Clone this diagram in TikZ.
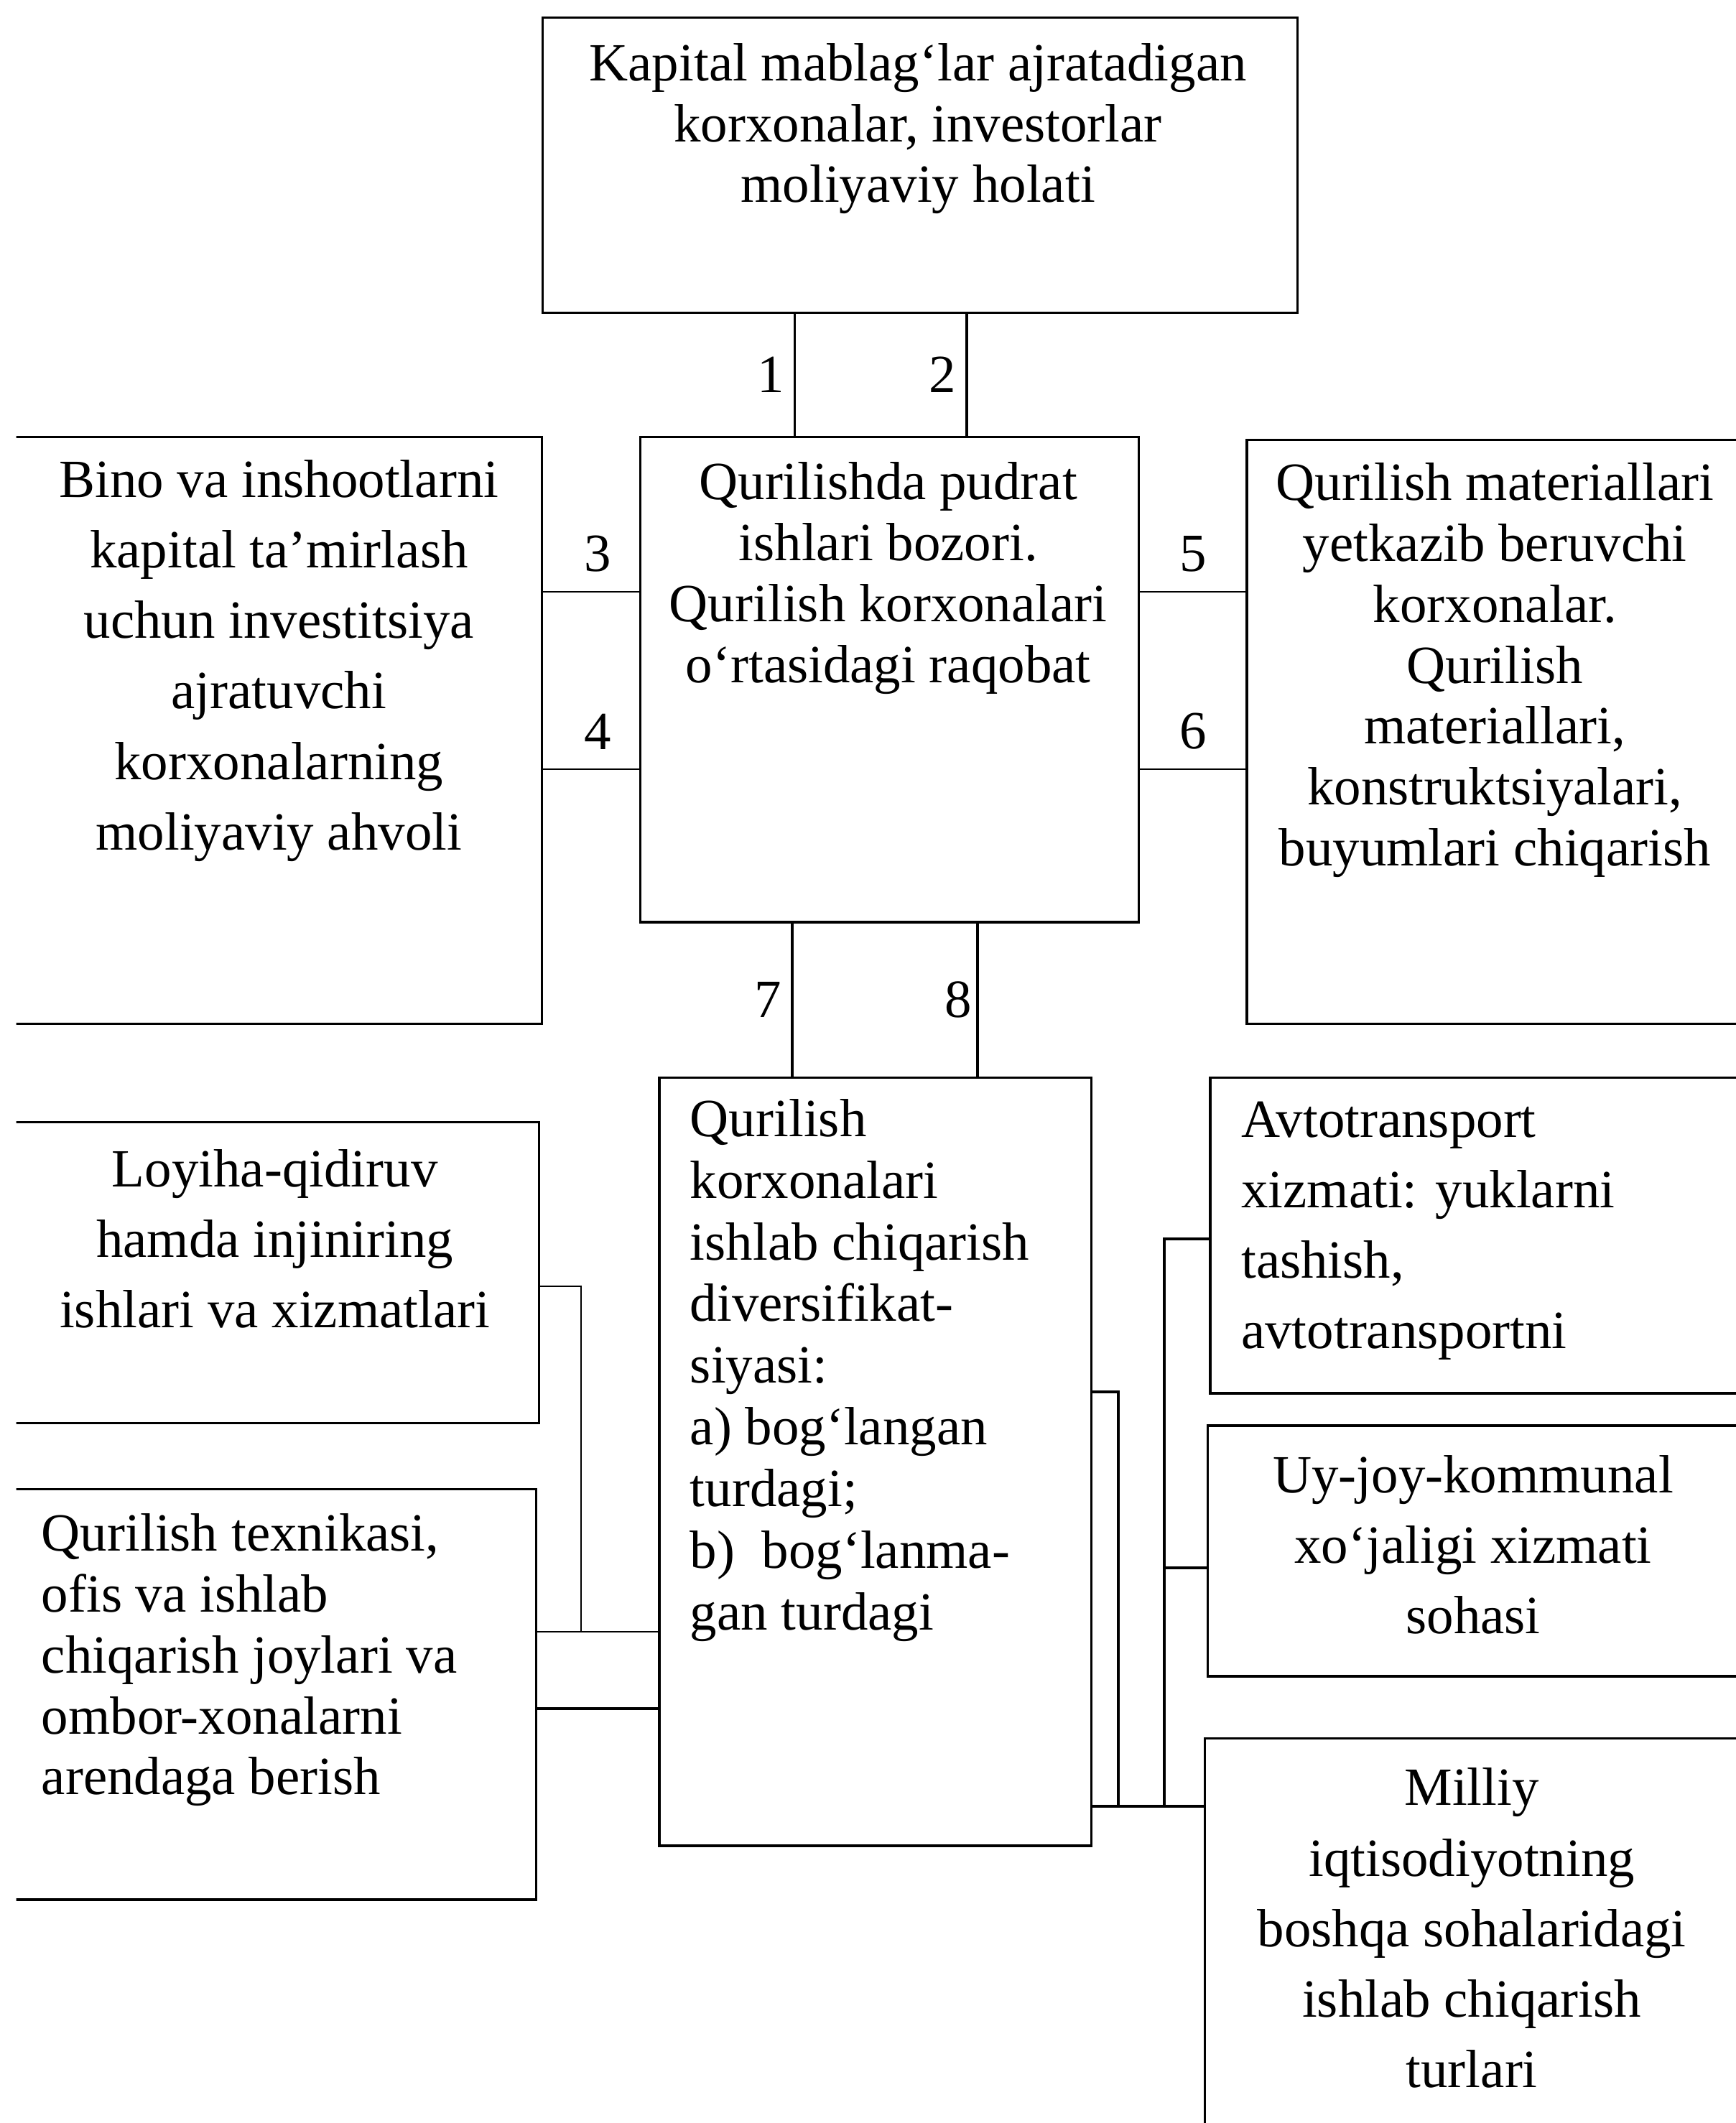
\documentclass[tikz,border=0pt]{standalone}
\usepackage{fontspec}
\setmainfont{Liberation Serif}
\usetikzlibrary{positioning}

\begin{document}
\begin{tikzpicture}[x=0.01cm, y=-0.01cm,
  box/.style={rectangle, draw, line width=0.5pt, anchor=north west, inner sep=0pt},
  txt/.style={rectangle, draw=none, inner sep=0pt, font=\fontsize{11.3}{12.8}\selectfont},
  wide/.style={font=\fontsize{11.3}{14.8}\selectfont},
  link/.style={line width=0.55pt},
  thinlink/.style={line width=0.35pt},
  num/.style={draw=none, inner sep=2pt, font=\fontsize{11.3}{12.8}\selectfont}]
\useasboundingbox (0,0) rectangle (1282,1568);
\clip (12,0) rectangle (1282,1568);
%%%%%%%%%%%%%%%%%%%%%%%%%%%%%%% Boxes
\node[box, minimum width=5.57cm, minimum height=2.18cm](boxCapital) at (400,12){};
\node[box, minimum width=3.68cm, minimum height=3.58cm](boxMarket) at (472,322){};
\node[box, minimum width=4.19cm, minimum height=4.33cm](boxRepair) at (-20,322){};
\node[box, minimum width=3.80cm, minimum height=4.31cm](boxSupply) at (920,324){};
\node[box, minimum width=3.19cm, minimum height=5.67cm](boxDivers) at (486,795){};
\node[box, minimum width=4.17cm, minimum height=2.22cm](boxDesign) at (-20,828){};
\node[box, minimum width=4.15cm, minimum height=3.03cm](boxRent) at (-20,1099){};
\node[box, minimum width=4.07cm, minimum height=2.33cm](boxTransport) at (893,795){};
\node[box, minimum width=4.09cm, minimum height=1.85cm](boxHousing) at (891,1052){};
\node[box, minimum width=4.11cm, minimum height=3.20cm](boxNational) at (889,1283){};

%%%%%%%%%%%%%%%%%%%%%%%%%%%%%%% Texts
\node[txt, align=center](txtCapital) at (678,95){Kapital mablag‘lar ajratadigan\\korxonalar, investorlar\\moliyaviy holati};
\node[txt, align=center](txtMarket) at (656,427){Qurilishda pudrat\\ishlari bozori.\\Qurilish korxonalari\\o‘rtasidagi raqobat};
\node[txt, wide, align=center](txtRepair) at (206,488){Bino va inshootlarni\\kapital ta’mirlash\\uchun investitsiya\\ajratuvchi\\korxonalarning\\moliyaviy ahvoli};
\node[txt, align=center](txtSupply) at (1104,495){Qurilish materiallari\\yetkazib beruvchi\\korxonalar.\\Qurilish\\materiallari,\\konstruktsiyalari,\\buyumlari chiqarish};
\node[txt, align=left, anchor=west, font=\fontsize{11.3}{12.95}\selectfont](txtDivers) at (509,1012){Qurilish\\korxonalari\\ishlab chiqarish\\diversifikat-\\siyasi:\\a) bog‘langan\\turdagi;\\b)~ bog‘lanma-\\gan turdagi};
\node[txt, wide, align=center](txtDesign) at (203,915){Loyiha-qidiruv\\hamda injiniring\\ishlari va xizmatlari};
\node[txt, align=left, anchor=west](txtRent) at (30,1226){Qurilish texnikasi,\\ofis va ishlab\\chiqarish joylari va\\ombor-xonalarni\\arendaga berish};
\node[txt, wide, align=left, anchor=west](txtTransport) at (916,909){Avtotransport\\xizmati: yuklarni\\tashish,\\avtotransportni};
\node[txt, wide, align=center](txtHousing) at (1088,1141){Uy-joy-kommunal\\xo‘jaligi xizmati\\sohasi};
\node[txt, wide, align=center](txtNational) at (1087,1424){Milliy\\iqtisodiyotning\\boshqa sohalaridagi\\ishlab chiqarish\\turlari};

%%%%%%%%%%%%%%%%%%%%%%%%%%%%%%% Numbered links
\draw[link] (boxCapital.south -| 587,0) -- node[num, midway, left]{1}(boxMarket.north -| 587,0);
\draw[link] (boxCapital.south -| 714,0) -- node[num, midway, left]{2}(boxMarket.north -| 714,0);
\draw[thinlink] (boxRepair.east |- 0,437) -- node[num, inner sep=4pt, midway, above, pos=0.57]{3}(boxMarket.west |- 0,437);
\draw[thinlink] (boxRepair.east |- 0,568) -- node[num, inner sep=4pt, midway, above, pos=0.57]{4}(boxMarket.west |- 0,568);
\draw[thinlink] (boxMarket.east |- 0,437) -- node[num, inner sep=4pt, midway, above, pos=0.5]{5}(boxSupply.west |- 0,437);
\draw[thinlink] (boxMarket.east |- 0,568) -- node[num, inner sep=4pt, midway, above, pos=0.5]{6}(boxSupply.west |- 0,568);
\draw[link] (boxMarket.south -| 585,0) -- node[num, midway, left]{7}(boxDivers.north -| 585,0);
\draw[link] (boxMarket.south -| 722,0) -- node[num, inner sep=1pt, midway, left]{8}(boxDivers.north -| 722,0);

%%%%%%%%%%%%%%%%%%%%%%%%%%%%%%% Left side
\draw[thinlink] (boxDesign.east |- 0,950) -| (429,1205);
\draw[thinlink] (boxRent.east |- 0,1205) -- (boxDivers.west |- 0,1205);
\draw[link] (boxRent.east |- 0,1262) -- (boxDivers.west |- 0,1262);

%%%%%%%%%%%%%%%%%%%%%%%%%%%%%%% Right side
\draw[link] (boxDivers.east |- 0,1028) -| (826,1334);
\draw[link] (boxDivers.east |- 0,1334) -- (boxNational.west |- 0,1334);
\draw[link] (boxTransport.west |- 0,915) -| (860,1334);
\draw[link] (boxHousing.west |- 0,1158) -- (860,1158);
\end{tikzpicture}
\end{document}
